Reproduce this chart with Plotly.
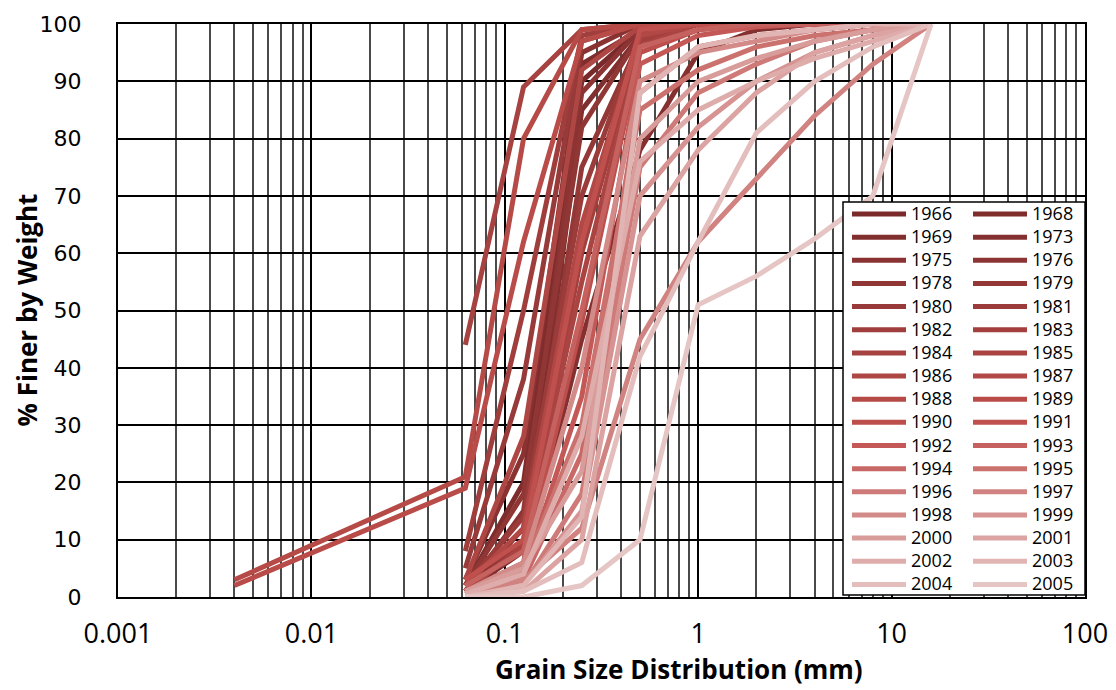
import plotly.graph_objects as go

# ---------------- data ----------------
SIEVE_MM = [0.004, 0.0625, 0.125, 0.25, 0.5, 1, 2, 4, 8, 16]

YEARS = [1966, 1968, 1969, 1973, 1975, 1976, 1978, 1979,
         1980, 1981, 1982, 1983, 1984, 1985, 1986, 1987, 1988, 1989, 1990, 1991,
         1992, 1993, 1994, 1995, 1996, 1997, 1998, 1999, 2000, 2001, 2002, 2003, 2004, 2005]

F1966 = [None, 1, 12, 90, 99, 100, 100, 100, 100, 100]
F1968 = [None, 2, 20, 93, 99, 100, 100, 100, 100, 100]
F1969 = [None, 1, 8, 85, 98, 100, 100, 100, 100, 100]
F1973 = [None, 0.5, 4, 45, 78, 95, 99, 100, 100, 100]
F1975 = [None, 3, 25, 95, 100, 100, 100, 100, 100, 100]
F1976 = [None, 1, 15, 88, 99, 100, 100, 100, 100, 100]
F1978 = [None, 2, 18, 82, 98, 100, 100, 100, 100, 100]
F1979 = [None, 1, 10, 75, 97, 100, 100, 100, 100, 100]
F1980 = [None, 5, 38, 97, 100, 100, 100, 100, 100, 100]
F1981 = [None, 2, 14, 70, 98, 100, 100, 100, 100, 100]
F1982 = [None, 8, 50, 98, 100, 100, 100, 100, 100, 100]
F1983 = [None, 1, 6, 60, 97, 100, 100, 100, 100, 100]
F1984 = [None, 44, 89, 99, 100, 100, 100, 100, 100, 100]
F1985 = [None, 1, 9, 55, 96, 100, 100, 100, 100, 100]
F1986 = [None, 3, 28, 92, 99.5, 100, 100, 100, 100, 100]
F1987 = [None, 2, 12, 65, 98, 100, 100, 100, 100, 100]
F1988 = [3, 21, 80, 99, 100, 100, 100, 100, 100, 100]
F1989 = [2, 19, 62, 97, 100, 100, 100, 100, 100, 100]
F1990 = [None, 1, 5, 48, 95, 99, 100, 100, 100, 100]
F1991 = [None, 3, 10, 62, 99, 100, 100, 100, 100, 100]
F1992 = [None, 1, 4, 35, 93, 98, 99.5, 100, 100, 100]
F1993 = [None, 2, 8, 50, 96, 99, 100, 100, 100, 100]
F1994 = [None, 0.5, 3, 25, 88, 96, 98, 99, 100, 100]
F1995 = [None, 1, 5, 30, 85, 92, 96, 98, 99, 100]
F1996 = [None, 0, 2, 18, 75, 88, 93, 97, 99, 100]
F1997 = [None, 0.5, 3, 12, 45, 62, 73, 84, 93, 100]
F1998 = [None, 1, 6, 40, 90, 95, 97, 99, 100, 100]
F1999 = [None, 0, 2, 15, 70, 82, 90, 95, 98, 100]
F2000 = [None, 1, 5, 22, 80, 90, 94, 97, 99, 100]
F2001 = [None, 0, 1, 10, 63, 78, 88, 95, 98, 100]
F2002 = [None, 0.5, 4, 28, 76, 85, 90, 94, 97, 100]
F2003 = [None, 0, 2, 14, 88, 96, 98, 99, 100, 100]
F2004 = [None, 0, 1, 6, 42, 62, 81, 90, 96, 100]
F2005 = [None, 0, 0, 2, 10, 51, 56, 62.5, 70, 100]

SERIES = [F1966, F1968, F1969, F1973, F1975, F1976, F1978, F1979,
          F1980, F1981, F1982, F1983, F1984, F1985, F1986, F1987, F1988, F1989, F1990, F1991,
          F1992, F1993, F1994, F1995, F1996, F1997, F1998, F1999, F2000, F2001, F2002, F2003,
          F2004, F2005]

X_TICK_VALS = [0.001, 0.01, 0.1, 1, 10, 100]
X_TICK_TEXT = ["0.001", "0.01", "0.1", "1", "10", "100"]
Y_TICK_VALS = [0, 10, 20, 30, 40, 50, 60, 70, 80, 90, 100]


# ---------------- styling ----------------
def lerp(c1, c2, t):
    return tuple(round(a + (b - a) * t) for a, b in zip(c1, c2))


DARK = (122, 42, 42)
MID = (192, 80, 77)
LIGHT = (230, 198, 197)
N_MID = 19  # index of 1991


def color_for(i):
    if i <= N_MID:
        c = lerp(DARK, MID, i / N_MID)
    else:
        c = lerp(MID, LIGHT, (i - N_MID) / (len(YEARS) - 1 - N_MID))
    return "rgb(%d,%d,%d)" % c


fig = go.Figure()
for i, (yr, vals) in enumerate(zip(YEARS, SERIES)):
    xs = [s for s, v in zip(SIEVE_MM, vals) if v is not None]
    ys = [v for v in vals if v is not None]
    fig.add_trace(go.Scatter(
        x=xs, y=ys, mode="lines",
        name="<span style='font-size:18px'>%d</span>" % yr,
        line=dict(color=color_for(i), width=5),
        legend="legend" if i % 2 == 0 else "legend2",
    ))

# page body has an 8px margin; lay out relative to the screenshot frame
OFF = 8
PL, PT, PW, PH = 118, 24, 967, 573          # plot area in screenshot pixels
W, H = 1116 - OFF, 690 - OFF
ML, MT = PL - OFF, PT - OFF
MR, MB = W - ML - PW, H - MT - PH


def px_x(p):
    return (p - PL) / PW


def px_y(p):
    return (PT + PH - p) / PH


legend_common = dict(
    xanchor="left", yanchor="top", y=px_y(197.4),
    bgcolor="rgba(0,0,0,0)", borderwidth=0,
    font=dict(family="Open Sans", size=15.5, color="black"),
    itemwidth=54, tracegroupgap=0, traceorder="normal",
)

fig.update_layout(
    width=W, height=H,
    margin=dict(l=ML, r=MR, t=MT, b=MB, autoexpand=False),
    paper_bgcolor="white", plot_bgcolor="white",
    showlegend=True,
    legend=dict(x=px_x(847), **legend_common),
    legend2=dict(x=px_x(968), **legend_common),
    xaxis=dict(
        type="log", range=[-3, 2],
        tickvals=X_TICK_VALS, ticktext=X_TICK_TEXT,
        tickfont=dict(family="Open Sans", size=27, color="black"),
        ticks="", ticklabelstandoff=12,
        showgrid=True, gridcolor="black", gridwidth=1.8,
        minor=dict(dtick="D1", showgrid=True, gridcolor="#4a4a4a", gridwidth=1.5, ticks=""),
        showline=True, linecolor="black", linewidth=2, mirror=True,
        zeroline=False,
    ),
    yaxis=dict(
        range=[0, 100], tickvals=Y_TICK_VALS,
        tickfont=dict(family="DejaVu Sans", size=22, color="black"),
        ticks="outside", ticklen=30, tickcolor="rgba(0,0,0,0)",
        showgrid=True, gridcolor="black", gridwidth=1.8,
        showline=True, linecolor="black", linewidth=2, mirror=True,
        zeroline=False,
    ),
    shapes=[dict(
        type="rect", xref="paper", yref="paper",
        x0=px_x(843), x1=1.0, y0=px_y(595), y1=px_y(202),
        fillcolor="white", line=dict(color="black", width=1.5), layer="above",
    )],
    annotations=[
        dict(text="<b>Grain Size Distribution (mm)</b>", xref="paper", yref="paper",
             x=px_x(679), y=px_y(669), xanchor="center", yanchor="middle",
             showarrow=False, font=dict(family="Open Sans", size=26, color="black")),
        dict(text="<b>% Finer by Weight</b>", xref="paper", yref="paper",
             x=px_x(26), y=0.5, xanchor="center", yanchor="middle", textangle=-90,
             showarrow=False, font=dict(family="Open Sans", size=26, color="black")),
    ],
)

fig.write_html("out.html")
